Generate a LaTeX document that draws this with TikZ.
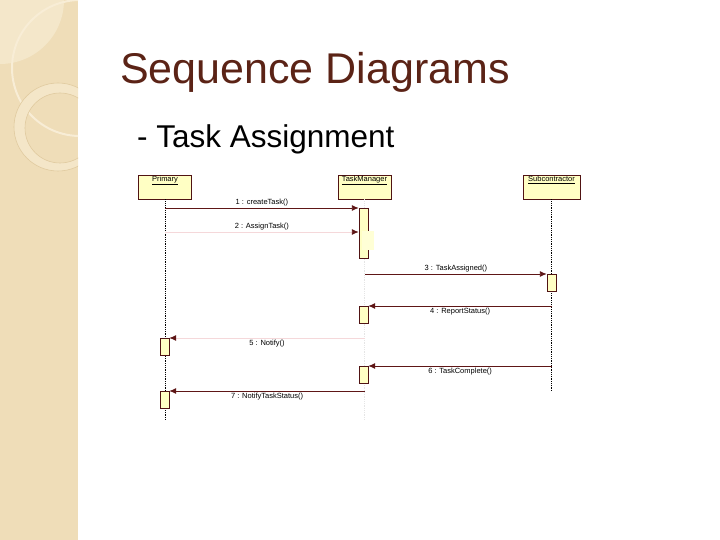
\documentclass[tikz,border=0pt]{standalone}
\usepackage{fontspec}
\setmainfont{Liberation Sans}
\usetikzlibrary{arrows.meta,positioning,calc}
\definecolor{SlideBrown}{HTML}{5B2316}
\definecolor{SlideBeige}{HTML}{EFDDB8}
\definecolor{SlideRing}{HTML}{F8EDD6}
\definecolor{SlideEdge}{HTML}{E0CA9F}
\definecolor{SeqFill}{HTML}{FFFFC4}
\definecolor{SeqLine}{HTML}{5E1616}
\definecolor{SeqFaint}{HTML}{F5D8DA}
\newcommand{\SeqFont}{\fontsize{7.5}{9}\selectfont}

\begin{document}
\begin{tikzpicture}[x=1pt,y=-1pt,
  head/.style={draw=SeqLine!85!black,fill=SeqFill,minimum width=53pt,inner xsep=0pt,inner ysep=1pt,
    text height=5.5pt,text depth=16.5pt,anchor=north,font=\SeqFont},
  bar/.style={draw=SeqLine!85!black,fill=SeqFill,minimum width=9pt,minimum height=17pt,inner sep=0pt,anchor=north},
  life/.style={densely dotted,line width=0.8pt,black},
  msg/.style={draw=SeqLine,line width=0.9pt,-{Latex[length=7pt,width=6pt]}},
  faintmsg/.style={draw=SeqFaint,line width=0.9pt,-{Latex[length=7pt,width=6pt,color=SeqLine]}},
  lbl/.style={font=\SeqFont,inner sep=1.5pt},
]
\useasboundingbox (0,0) rectangle (720,540);
% side panel
\fill[SlideBeige] (0,0) rectangle (78,540);
\begin{scope}
  \clip (0,0) rectangle (78,540);
  \fill[SlideRing!60!SlideBeige] (0,0) circle[radius=64];
  \draw[SlideRing,line width=2pt] (80,68) circle[radius=68];
  \fill[SlideRing!55!SlideBeige,even odd rule] (58,127) circle[radius=44] (60,128) circle[radius=35];
  \draw[SlideEdge,line width=0.6pt] (58,127) circle[radius=44];
  \draw[SlideEdge,line width=0.6pt] (60,128) circle[radius=35];
\end{scope}
% titles
\node[anchor=base west,inner sep=0pt,text=SlideBrown,font=\fontsize{43}{50}\selectfont] (title) at (120,84) {Sequence Diagrams};
\node[anchor=base west,inner sep=0pt,font=\fontsize{31.5}{38}\selectfont] (subtitle) at (137,148) {- Task Assignment};
% lifeline heads
\node[head] (primary) at (165,175) {\underline{Primary}};
\node[head] (taskmgr) at (364.5,175) {\underline{TaskManager}};
\node[head,minimum width=57pt] (subcon) at (551.5,175) {\underline{Subcontractor}};
% lifelines
\coordinate (primEnd) at (165,420);
\coordinate (tmEnd) at (364.5,420);
\coordinate (subEnd) at (551.5,391);
\draw[life] (primary.south) -- (primEnd);
\draw[densely dotted,line width=0.8pt,black!10] (taskmgr.south) -- (tmEnd);
\draw[life] (subcon.south) -- (subEnd);
% activations
\node[bar,minimum height=50pt] (tmA) at (363.5,208) {};
\node[fill=SeqFill!70,minimum width=12pt,minimum height=19pt,inner sep=0pt,anchor=north] (tmB) at (368,231) {};
\node[bar] (subA) at (551.5,274) {};
\node[bar] (tmC) at (363.5,306) {};
\node[bar] (primA) at (164.5,338) {};
\node[bar] (tmD) at (363.5,366) {};
\node[bar] (primB) at (164.5,391) {};
% message end points on the lifelines
\coordinate (p1) at (165,208);
\coordinate (p2) at (165,232);
\coordinate (t3) at (365,274);
\coordinate (s4) at (552,306);
\coordinate (t5) at (365,338);
\coordinate (s6) at (552,366);
\coordinate (t7) at (365,391);
% messages
\draw[msg] (p1) -- (tmA.north west) node[lbl,midway,above] {1 : createTask()};
\draw[faintmsg] (p2) -- (p2 -| tmA.west) node[lbl,midway,above] {2 : AssignTask()};
\draw[msg] (t3) -- (subA.north west) node[lbl,midway,above] {3 : TaskAssigned()};
\draw[msg] (s4) -- (tmC.north east) node[lbl,midway,below] {4 : ReportStatus()};
\draw[faintmsg] (t5) -- (primA.north east) node[lbl,midway,below] {5 : Notify()};
\draw[msg] (s6) -- (tmD.north east) node[lbl,midway,below] {6 : TaskComplete()};
\draw[msg] (t7) -- (primB.north east) node[lbl,midway,below] {7 : NotifyTaskStatus()};
\end{tikzpicture}
\end{document}
